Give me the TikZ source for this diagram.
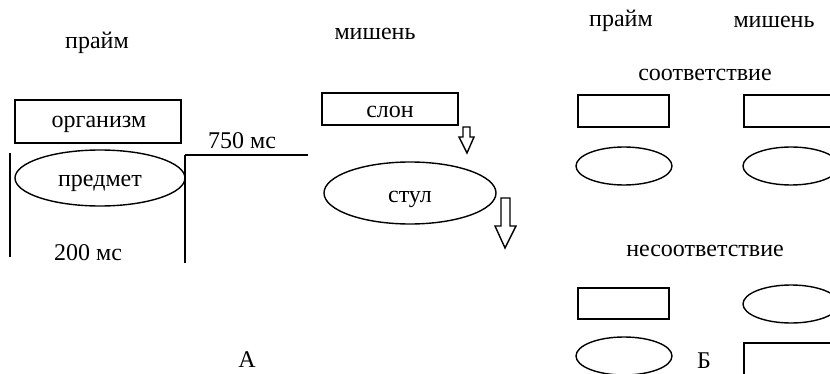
\documentclass[tikz,border=0pt]{standalone}
\usepackage{fontspec}
\setmainfont{Liberation Serif}
\begin{document}
\begin{tikzpicture}[x=1pt,y=-1pt,
  lw/.style={line width=1.4pt},
  txt/.style={font=\fontsize{24}{28}\selectfont, inner sep=0pt, anchor=base},
  hollow/.style={lw, draw, fill=white, line join=miter}
]
\useasboundingbox (0,0) rectangle (830,374);
\clip (0,0) rectangle (830,374);
% Panel A
\node[txt] (prA) at (97,49) {прайм};
\node[txt] (miA) at (375,40) {мишень};
\draw[lw] (15,100) rectangle (181,143);
\node[txt] (org) at (99,128) {организм};
\draw[lw] (100,178) ellipse [x radius=85, y radius=28];
\node[txt] (pred) at (100,187) {предмет};
\coordinate (l1) at (10,153); \coordinate (l2) at (10,257);
\coordinate (r1) at (185,155); \coordinate (r2) at (185,263);
\coordinate (h2) at (308,155);
\draw[lw] (l1) -- (l2);
\draw[lw] (r1) -- (r2);
\draw[lw] (r1) -- (h2);
\node[txt] (t750) at (242,149) {750 мс};
\node[txt] (t200) at (88,261) {200 мс};
\draw[lw] (322,93) rectangle (458,125);
\node[txt] (slon) at (390,118) {слон};
\draw[lw] (410,193) ellipse [x radius=86, y radius=31];
\node[txt] (stul) at (410,203) {стул};
\draw[hollow] (463,127) -- (470,127) -- (470,137) -- (474,137) -- (467,153) -- (459,137) -- (463,137) -- cycle;
\draw[hollow] (501,198) -- (510,198) -- (510,226) -- (516,226) -- (505,248) -- (495,226) -- (501,226) -- cycle;
\node[txt] (A) at (247,367) {А};
% Panel B
\node[txt] (prB) at (621,27) {прайм};
\node[txt] (miB) at (774,28) {мишень};
\node[txt] (sootv) at (705,81) {соответствие};
\draw[lw] (578,95) rectangle (669,127);
\draw[lw] (744,95) rectangle (850,127);
\draw[lw] (624,166) ellipse [x radius=48, y radius=19];
\draw[lw] (791,166) ellipse [x radius=48, y radius=19];
\node[txt] (nesootv) at (705,256) {несоответствие};
\draw[lw] (578,288) rectangle (669,319);
\draw[lw] (791,304) ellipse [x radius=48, y radius=19];
\draw[lw] (624,356) ellipse [x radius=48, y radius=19];
\draw[lw] (744,343) rectangle (850,400);
\node[txt] (B) at (704,368) {Б};
\end{tikzpicture}
\end{document}
